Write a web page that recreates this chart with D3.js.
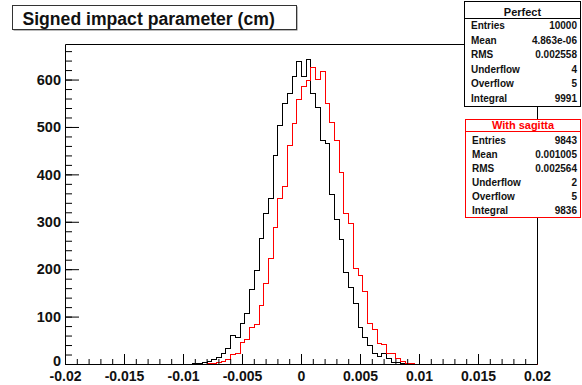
<!DOCTYPE html>
<html>
<head>
<meta charset="utf-8">
<script src="https://cdn.jsdelivr.net/npm/d3@7"></script>
<style>
  html, body { margin: 0; padding: 0; background: #fff; }
  svg { display: block; }
  text { font-family: "Liberation Sans", Arial, Helvetica, sans-serif; font-weight: bold; }
</style>
</head>
<body>
<svg id="chart" width="582" height="385"></svg>
<script>
// ---- data ---------------------------------------------------------------
const histTitle = "Signed impact parameter (cm)";
const xMin = -0.02, xMax = 0.02, nBins = 100;

// bin contents, 100 bins from -0.02 to 0.02
const perfectCounts = [
  0, 0, 0, 0, 0, 0, 0, 0, 0, 0,
  0, 0, 0, 0, 0, 0, 0, 0, 0, 0,
  0, 0, 0, 0, 0, 0, 0, 2, 3, 4,
  6, 10, 15, 23, 33, 62, 58, 86, 107, 158,
  198, 265, 318, 350, 441, 504, 551, 571, 608, 640,
  608, 643, 571, 543, 473, 467, 359, 305, 263, 195,
  163, 129, 79, 58, 40, 24, 17, 24, 12, 5,
  4, 2, 0, 0, 0, 0, 0, 0, 0, 0,
  0, 0, 0, 0, 0, 0, 0, 0, 0, 0,
  0, 0, 0, 0, 0, 0, 0, 0, 0, 0
];
const sagittaCounts = [
  0, 0, 0, 0, 0, 0, 0, 0, 0, 0,
  0, 0, 0, 0, 0, 0, 0, 0, 0, 0,
  0, 0, 0, 0, 0, 0, 0, 0, 0, 0,
  2, 3, 4, 6, 11, 21, 24, 47, 52, 79,
  84, 124, 170, 223, 288, 350, 376, 462, 508, 560,
  587, 600, 626, 601, 617, 550, 511, 473, 406, 318,
  297, 202, 188, 153, 87, 74, 44, 42, 23, 24,
  12, 6, 3, 2, 0, 0, 0, 0, 0, 0,
  0, 0, 0, 0, 0, 0, 0, 0, 0, 0,
  0, 0, 0, 0, 0, 0, 0, 0, 0, 0
];

const xTickValues = [-0.02, -0.015, -0.01, -0.005, 0, 0.005, 0.01, 0.015, 0.02];
const xTickLabels = ["-0.02", "-0.015", "-0.01", "-0.005", "0", "0.005", "0.01", "0.015", "0.02"];
const yTickValues = [0, 100, 200, 300, 400, 500, 600];
const yTickLabels = ["0", "100", "200", "300", "400", "500", "600"];
const yMax = 675;

const statLabels = ["Entries", "Mean", "RMS", "Underflow", "Overflow", "Integral"];
const perfectName = "Perfect";
const perfectStats = ["10000", "4.863e-06", "0.002558", "4", "5", "9991"];
const sagittaName = "With sagitta";
const sagittaStats = ["9843", "0.001005", "0.002564", "2", "5", "9836"];

// ---- layout -------------------------------------------------------------
const frame = { left: 65, right: 537, top: 44, bottom: 364 };
const svg = d3.select("#chart");

svg.append("rect").attr("width", 582).attr("height", 385).attr("fill", "#fff");

const x = d3.scaleLinear().domain([xMin, xMax]).range([frame.left, frame.right]);
const y = d3.scaleLinear().domain([0, yMax]).range([frame.bottom, frame.top]);

// frame (top and right edges; left/bottom come from the axes)
svg.append("path")
  .attr("d", `M${frame.left + 0.5},${frame.top + 0.5}H${frame.right + 0.5}V${frame.bottom + 0.5}`)
  .attr("fill", "none").attr("stroke", "#000").attr("stroke-width", 1);

// ---- histograms ---------------------------------------------------------
const binWidth = (xMax - xMin) / nBins;
const edges = d3.range(nBins + 1).map(i => xMin + i * binWidth);
const px = v => Math.round(x(v)) + 0.5;
const py = v => Math.round(y(v)) + 0.5;

function histPath(counts) {
  const p = d3.path();
  p.moveTo(px(edges[0]), py(0));
  counts.forEach((c, i) => {
    p.lineTo(px(edges[i]), py(c));
    p.lineTo(px(edges[i + 1]), py(c));
  });
  p.lineTo(px(edges[nBins]), py(0));
  return p.toString();
}

svg.append("path").attr("d", histPath(perfectCounts))
  .attr("fill", "none").attr("stroke", "#000").attr("stroke-width", 1)
  .attr("shape-rendering", "crispEdges");
svg.append("path").attr("d", histPath(sagittaCounts))
  .attr("fill", "none").attr("stroke", "#f00").attr("stroke-width", 1)
  .attr("shape-rendering", "crispEdges");

// ---- axes ---------------------------------------------------------------
const fontSize = 14.5;

// x minor ticks every 0.001
const xMinor = d3.range(-20, 21).map(k => k * 0.001);
svg.append("g").attr("transform", `translate(0,${frame.bottom})`)
  .call(d3.axisBottom(x).tickValues(xMinor).tickSize(-5).tickSizeOuter(0).tickFormat(""))
  .call(g => g.select(".domain").remove());

const xAxis = svg.append("g").attr("transform", `translate(0,${frame.bottom})`)
  .call(d3.axisBottom(x).tickValues(xTickValues).tickSize(-10).tickSizeOuter(0)
    .tickFormat((d, i) => xTickLabels[i]));
xAxis.selectAll("text")
  .attr("y", 17.4).attr("dy", 0)
  .attr("fill", "#111").style("font-size", "14px");

// y minor ticks every 20
const yMinor = d3.range(0, 680, 20);
svg.append("g").attr("transform", `translate(${frame.left},0)`)
  .call(d3.axisLeft(y).tickValues(yMinor).tickSize(-7).tickSizeOuter(0).tickFormat(""))
  .call(g => g.select(".domain").remove());

const yAxis = svg.append("g").attr("transform", `translate(${frame.left},0)`)
  .call(d3.axisLeft(y).tickValues(yTickValues).tickSize(-14).tickSizeOuter(0)
    .tickPadding(4).tickFormat((d, i) => yTickLabels[i]));
yAxis.selectAll("text")
  .attr("dy", "0.33em")
  .attr("fill", "#111").style("font-size", fontSize + "px");
// the zero label sits a little higher so it clears the x labels below it
yAxis.selectAll(".tick").filter(d => d === 0).select("text").attr("y", -3);

svg.selectAll(".tick line").attr("stroke", "#000");
svg.selectAll(".domain").attr("stroke", "#000");
svg.selectAll("g").attr("font-family", null).attr("font-size", null);

// ---- title box ----------------------------------------------------------
const titleG = svg.append("g");
titleG.append("rect").attr("x", 13.5).attr("y", 6.5).attr("width", 284).attr("height", 24)
  .attr("fill", "#777");
titleG.append("rect").attr("x", 12.5).attr("y", 5.5).attr("width", 284).attr("height", 24)
  .attr("fill", "#fff").attr("stroke", "#333").attr("stroke-width", 1);
titleG.append("text").attr("x", 22.5).attr("y", 24.5)
  .style("font-size", "17.6px").attr("fill", "#111").text(histTitle);

// ---- statistics boxes ---------------------------------------------------
function statsBox(cfg) {
  const g = svg.append("g");
  g.append("rect").attr("x", cfg.x0 + 0.5).attr("y", cfg.y0 + 0.5)
    .attr("width", cfg.x1 - cfg.x0).attr("height", cfg.y1 - cfg.y0)
    .attr("fill", "#fff").attr("stroke", cfg.color).attr("stroke-width", 1);
  g.append("line").attr("x1", cfg.x0 + 0.5).attr("x2", cfg.x1 + 0.5)
    .attr("y1", cfg.sep + 0.5).attr("y2", cfg.sep + 0.5)
    .attr("stroke", cfg.color).attr("stroke-width", 1);
  g.append("text").attr("x", (cfg.x0 + cfg.x1) / 2 + 0.5).attr("y", cfg.titleBase)
    .attr("text-anchor", "middle").style("font-size", "11px")
    .attr("fill", cfg.titleColor).text(cfg.title);
  statLabels.forEach((lab, i) => {
    g.append("text").attr("x", cfg.x0 + 7).attr("y", cfg.rowBase + i * cfg.rowStep)
      .style("font-size", "10px").attr("fill", "#111").text(lab);
    g.append("text").attr("x", cfg.x1 - 3).attr("y", cfg.rowBase + i * cfg.rowStep)
      .attr("text-anchor", "end").style("font-size", "10px").attr("fill", "#111")
      .text(cfg.values[i]);
  });
}

statsBox({ x0: 464, x1: 580, y0: 1, y1: 106, sep: 18, titleBase: 16,
  rowBase: 28.9, rowStep: 14.6, color: "#000", titleColor: "#111",
  title: perfectName, values: perfectStats });
statsBox({ x0: 465, x1: 580, y0: 119, y1: 217, sep: 131, titleBase: 129.3,
  rowBase: 144, rowStep: 13.9, color: "#f00", titleColor: "#f00",
  title: sagittaName, values: sagittaStats });
</script>
</body>
</html>
